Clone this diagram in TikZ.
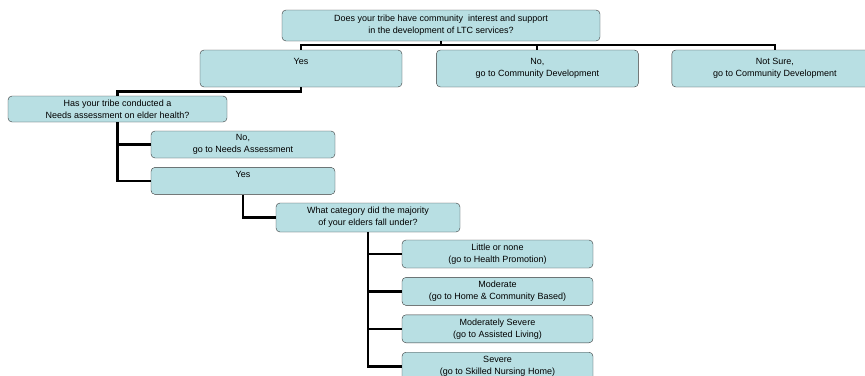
\documentclass[tikz,border=0pt]{standalone}
\usepackage{fontspec}
\setmainfont{Liberation Sans}
\usetikzlibrary{positioning}
\definecolor{turquoise}{RGB}{184,223,227}
\definecolor{contour}{RGB}{55,55,55}

\begin{document}
\begin{tikzpicture}[x=1pt, y=-1pt, node distance=9pt and 34pt, font=\fontsize{9}{12}\selectfont,
  boite/.style={draw=contour, fill=turquoise, rounded corners=4pt, align=center, inner sep=0pt, minimum height=28pt},
  lien/.style={line width=2.6pt, black}]
\useasboundingbox (0,0) rectangle (865,375);
\clip (0,0) rectangle (865,375);
\node[boite, minimum width=318pt, minimum height=31pt] (q1) at (441,25.5) {Does your tribe have community\ \ interest and support\\in the development of LTC services?};
\node[boite, minimum width=202pt, minimum height=37pt] (yes1) at (301,68.5) {Yes\\\phantom{g}};
\node[boite, minimum width=202pt, minimum height=37pt, right=of yes1] (no1) {No,\\go to Community Development};
\node[boite, minimum width=206pt, minimum height=37pt, right=33pt of no1] (notsure) {Not Sure,\\go to Community Development};
\node[boite, minimum width=219pt, minimum height=26pt] (q2) at (117.5,109) {Has your tribe conducted a\\Needs assessment on elder health?};
\node[boite, minimum width=184pt, minimum height=27pt] (noneeds) at (243,144.5) {No,\\go to Needs Assessment};
\node[boite, minimum width=184pt, minimum height=27pt, below=of noneeds] (yes2) {Yes\\\phantom{g}};
\node[boite, minimum width=184pt, minimum height=29pt] (q3) at (368,217.5) {What category did the majority\\of your elders fall under?};
\node[boite, minimum width=191pt] (little) at (497.5,254) {Little or none\\(go to Health Promotion)};
\node[boite, minimum width=191pt, below=of little] (moderate) {Moderate\\(go to Home \& Community Based)};
\node[boite, minimum width=191pt, below=of moderate] (modsev) {Moderately Severe\\(go to Assisted Living)};
\node[boite, minimum width=191pt, below=of modsev] (severe) {Severe\\(go to Skilled Nursing Home)};
% connecteurs
\coordinate (barre) at (441,45);
\draw[lien] (q1.south) -- (barre);
\draw[lien, line width=2pt] (barre) -| (yes1.north); \draw[lien, line width=2pt] (barre) -| (no1.north); \draw[lien, line width=2pt] (barre) -| (notsure.north);
\draw[lien] (yes1.south) -- ++(0,4) -| (q2.north);
\draw[lien] (q2.south) |- (noneeds.west); \draw[lien] (q2.south) |- (yes2.west);
\draw[lien] (yes2.south) |- (q3.west);
\foreach \n in {little,moderate,modsev,severe} \draw[lien] (q3.south) |- (\n.west);
\end{tikzpicture}
\end{document}
